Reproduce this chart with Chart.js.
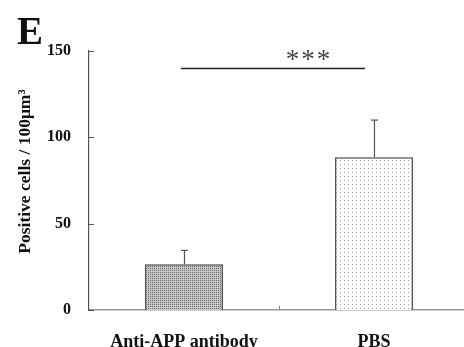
<!DOCTYPE html>
<html>
<head>
<meta charset="utf-8">
<script src="https://cdn.jsdelivr.net/npm/chart.js@4"></script>
<style>
html,body{margin:0;padding:0;background:#fff;overflow:hidden;}
#c{display:block;}
</style>
</head>
<body>
<canvas id="c" width="469" height="347"></canvas>
<script>
const categories = ['Anti-APP antibody', 'PBS'];
const values = [26.5, 88.5];
const errors = [8, 21.5];
const yTicks = [0, 50, 100, 150];
const sigLevel = 140;
const sigLabel = '***';
const panelLabel = 'E';
const yTitle = 'Positive cells / 100\u03bcm\u00b3';

function makePattern(bg, dot, step) {
  const p = document.createElement('canvas');
  p.width = step; p.height = step;
  const g = p.getContext('2d');
  g.fillStyle = bg; g.fillRect(0, 0, step, step);
  g.fillStyle = dot; g.fillRect(0, 0, 1, 1);
  return document.getElementById('c').getContext('2d').createPattern(p, 'repeat');
}
const fills = [makePattern('#c8c8c8', '#6a6a6a', 2), makePattern('#ffffff', '#a0a0a0', 4)];

const serif = '"Liberation Serif", "DejaVu Serif", serif';

const extras = {
  id: 'extras',
  afterDatasetsDraw(chart) {
    const ctx = chart.ctx;
    const x = chart.scales.x, y = chart.scales.y;
    const area = chart.chartArea;
    ctx.save();
    // inward y ticks
    ctx.strokeStyle = '#555'; ctx.lineWidth = 1;
    yTicks.forEach(v => {
      const py = Math.round(y.getPixelForValue(v)) + 0.5;
      ctx.beginPath(); ctx.moveTo(area.left, py); ctx.lineTo(area.left + 5, py); ctx.stroke();
    });
    // category boundary tick on x axis
    const bx = Math.round((x.getPixelForValue(0) + x.getPixelForValue(1)) / 2) + 0.5;
    ctx.strokeStyle = '#888';
    ctx.beginPath(); ctx.moveTo(bx, area.bottom); ctx.lineTo(bx, area.bottom - 4); ctx.stroke();
    // error bars
    const meta = chart.getDatasetMeta(0);
    ctx.strokeStyle = '#555'; ctx.lineWidth = 1.2;
    meta.data.forEach((bar, i) => {
      const cx = Math.round(bar.x) + 0.5;
      const top = y.getPixelForValue(values[i]);
      const et = y.getPixelForValue(values[i] + errors[i]);
      ctx.beginPath(); ctx.moveTo(cx, top); ctx.lineTo(cx, et); ctx.stroke();
      ctx.beginPath(); ctx.moveTo(cx - 3.5, et); ctx.lineTo(cx + 3.5, et); ctx.stroke();
    });
    // significance line
    const x0 = x.getPixelForValue(0) - 3;
    const x1 = x.getPixelForValue(1) - 9;
    const sy = Math.round(y.getPixelForValue(sigLevel)) + 0.5;
    ctx.strokeStyle = '#222'; ctx.lineWidth = 1.5;
    ctx.beginPath(); ctx.moveTo(x0, sy); ctx.lineTo(x1, sy); ctx.stroke();
    ctx.fillStyle = '#444';
    ctx.font = '27px ' + serif;
    ctx.letterSpacing = '2px';
    ctx.textAlign = 'center'; ctx.textBaseline = 'alphabetic';
    ctx.fillText(sigLabel, x0 + (x1 - x0) * 0.69 + 1, sy - 1);
    ctx.letterSpacing = '0px';
    // y title
    ctx.save();
    ctx.translate(25, (area.top + area.bottom) / 2 - 9);
    ctx.rotate(-Math.PI / 2);
    ctx.fillStyle = '#111';
    ctx.font = 'bold 17.5px ' + serif;
    ctx.textAlign = 'center'; ctx.textBaseline = 'middle';
    ctx.fillText(yTitle, 0, 0);
    ctx.restore();
    // panel label
    ctx.fillStyle = '#111';
    ctx.font = 'bold 39px ' + serif;
    ctx.textAlign = 'left'; ctx.textBaseline = 'alphabetic';
    ctx.fillText(panelLabel, 17, 44);
    ctx.restore();
  }
};

new Chart(document.getElementById('c'), {
  type: 'bar',
  data: {
    labels: categories,
    datasets: [{
      data: values,
      backgroundColor: fills,
      borderColor: '#444',
      borderWidth: 1.5,
      borderSkipped: 'bottom',
      barPercentage: 0.41,
      categoryPercentage: 1.0
    }]
  },
  options: {
    responsive: false,
    animation: false,
    layout: { padding: { top: 51, right: 0, left: 0, bottom: 0 } },
    plugins: { legend: { display: false }, tooltip: { enabled: false } },
    scales: {
      x: {
        offset: true,
        grid: { display: false },
        border: { display: true, color: '#999', width: 1.5 },
        ticks: { color: '#111', padding: 14, font: { family: serif, size: 18, weight: 'bold' } },
        afterFit(s) { s.height = 37; }
      },
      y: {
        min: 0, max: 150,
        afterBuildTicks(s) { s.ticks = yTicks.map(v => ({ value: v })); },
        grid: { display: false },
        border: { display: true, color: '#555', width: 1.2 },
        ticks: { color: '#111', padding: 10, font: { family: serif, size: 16, weight: 'bold' } },
        afterFit(s) { s.width = 89; }
      }
    }
  },
  plugins: [extras]
});
</script>
</body>
</html>
